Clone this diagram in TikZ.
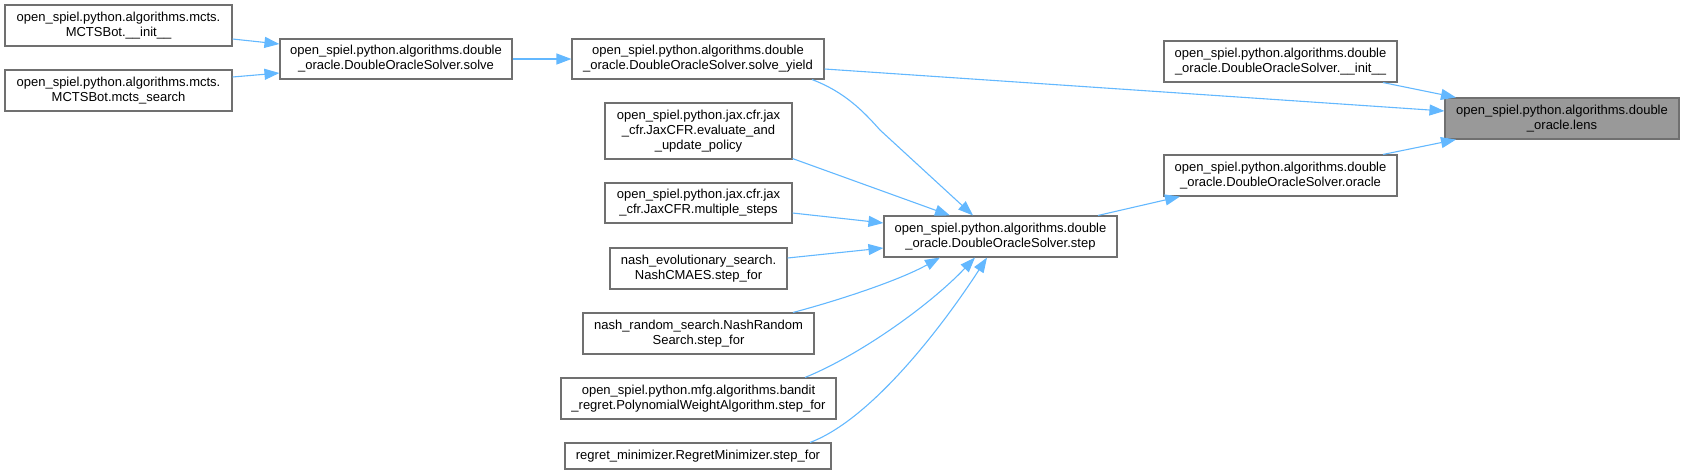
\documentclass[tikz,border=0pt]{standalone}
\usepackage{fontspec}
\setmainfont{Liberation Sans}
\usetikzlibrary{arrows.meta}
\definecolor{edgeblue}{HTML}{63B8FF}
\definecolor{boxborder}{HTML}{707070}
\definecolor{rootfill}{HTML}{999999}
\tikzset{
  fn/.style={draw=boxborder, line width=1.1pt, fill=white, inner sep=0pt, align=center,
    font=\fontsize{13}{15}\selectfont},
  rootfn/.style={fn, fill=rootfill},
  call/.style={draw=edgeblue, line width=1.1pt, -{Triangle[length=15pt,width=11pt,fill=edgeblue]}}
}
\begin{document}
\begin{tikzpicture}[x=1pt,y=-1pt]
\useasboundingbox (0,0) rectangle (1683,475);
% nodes: center (cx,cy), size
\node[fn, minimum width=227pt, minimum height=41pt] (mi) at (118.5,25.5) {open\_spiel.python.algorithms.mcts.\\MCTSBot.\_\_init\_\_};
\node[fn, minimum width=227pt, minimum height=41pt] (ms) at (118.5,90.5) {open\_spiel.python.algorithms.mcts.\\MCTSBot.mcts\_search};
\node[fn, minimum width=232pt, minimum height=40pt] (solve) at (396,59) {open\_spiel.python.algorithms.double\\\_oracle.DoubleOracleSolver.solve};
\node[fn, minimum width=252pt, minimum height=40pt] (sy) at (698,59) {open\_spiel.python.algorithms.double\\\_oracle.DoubleOracleSolver.solve\_yield};
\node[fn, minimum width=187pt, minimum height=56pt] (ev) at (698.5,131) {open\_spiel.python.jax.cfr.jax\\\_cfr.JaxCFR.evaluate\_and\\\_update\_policy};
\node[fn, minimum width=187pt, minimum height=40pt] (mst) at (698.5,203) {open\_spiel.python.jax.cfr.jax\\\_cfr.JaxCFR.multiple\_steps};
\node[fn, minimum width=177pt, minimum height=41pt] (nc) at (698.5,268.5) {nash\_evolutionary\_search.\\NashCMAES.step\_for};
\node[fn, minimum width=231pt, minimum height=41pt] (nr) at (698.5,333.5) {nash\_random\_search.NashRandom\\Search.step\_for};
\node[fn, minimum width=275pt, minimum height=41pt] (pw) at (698.5,398.5) {open\_spiel.python.mfg.algorithms.bandit\\\_regret.PolynomialWeightAlgorithm.step\_for};
\node[fn, minimum width=266pt, minimum height=26pt] (rm) at (698,456) {regret\_minimizer.RegretMinimizer.step\_for};
\node[fn, minimum width=233pt, minimum height=41pt] (step) at (1000.5,236.5) {open\_spiel.python.algorithms.double\\\_oracle.DoubleOracleSolver.step};
\node[fn, minimum width=233pt, minimum height=41pt] (di) at (1280.5,61.5) {open\_spiel.python.algorithms.double\\\_oracle.DoubleOracleSolver.\_\_init\_\_};
\node[fn, minimum width=233pt, minimum height=41pt] (or) at (1280.5,175.5) {open\_spiel.python.algorithms.double\\\_oracle.DoubleOracleSolver.oracle};
\node[rootfn, minimum width=234pt, minimum height=41pt] (lens) at (1562,118.5) {open\_spiel.python.algorithms.double\\\_oracle.lens};
% edges
\draw[call] ([yshift=-13.5pt]mi.east) -- ([yshift=15pt]solve.west);
\draw[call] ([yshift=13.5pt]ms.east) -- ([yshift=-14pt]solve.west);
\draw[call] (solve.east) -- (sy.west);
\draw[call] ([yshift=-10pt]sy.east) -- ([yshift=7.5pt]lens.west);
\draw[call] ([xshift=114pt]sy.south) .. controls (845,92) and (864,112) .. (880,130) -- ([xshift=-27.5pt]step.north);
\draw[call] ([yshift=1pt]ev.south east) -- ([xshift=-50.5pt]step.north);
\draw[call] ([yshift=-10pt]mst.east) -- ([yshift=13.5pt]step.west);
\draw[call] ([yshift=10.5pt]nc.east) -- ([yshift=-11.5pt]step.west);
\draw[call] ([xshift=94.5pt]nr.north) .. controls (840,300) and (900,280) .. ([xshift=-60.5pt]step.south);
\draw[call] ([xshift=106.5pt]pw.north) .. controls (860,355) and (930,305) .. ([xshift=-25.5pt]step.south);
\draw[call] ([xshift=112pt]rm.north) .. controls (870,420) and (940,330) .. ([xshift=-13.5pt]step.south);
\draw[call] ([xshift=97.5pt]step.north) -- ([xshift=-100.5pt]or.south);
\draw[call] ([xshift=102.5pt]or.north) -- ([xshift=-106pt]lens.south);
\draw[call] ([xshift=102.5pt]di.south) -- ([xshift=-106pt]lens.north);
\end{tikzpicture}
\end{document}
